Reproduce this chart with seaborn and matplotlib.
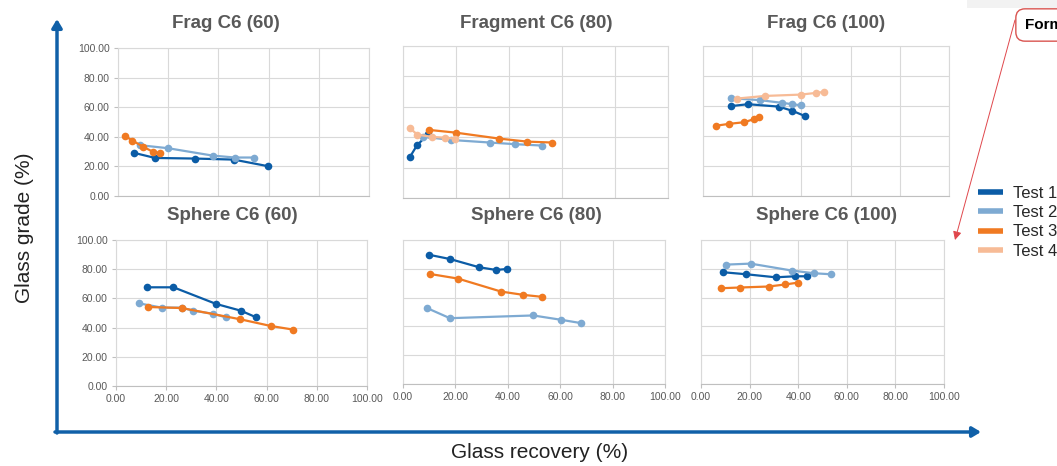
import matplotlib
matplotlib.use("Agg")
import matplotlib.pyplot as plt
import seaborn as sns
import pandas as pd
from matplotlib.lines import Line2D

# Werte (Glass recovery %, Glass grade %)
titles = ["Frag C6 (60)", "Fragment C6 (80)", "Frag C6 (100)",
          "Sphere C6 (60)", "Sphere C6 (80)", "Sphere C6 (100)"]
tests = ["Test 1", "Test 2", "Test 3", "Test 4"]
colors = ["#0b5ca6", "#7eaad2", "#f07a22", "#f7bb96"]

frag60_x = {"Test 1": [6.5, 14.8, 30.7, 46.1, 59.9],
            "Test 2": [8.9, 19.9, 37.7, 46.6, 54.0],
            "Test 3": [2.8, 5.7, 10.1, 14.0, 16.6]}
frag60_y = {"Test 1": [29.1, 25.7, 25.3, 24.6, 20.1],
            "Test 2": [34.3, 32.3, 27.3, 26.0, 26.0],
            "Test 3": [40.6, 37.5, 33.2, 29.8, 29.1]}

frag80_x = {"Test 1": [2.5, 5.3, 9.5],
            "Test 2": [7.5, 18.0, 32.7, 42.4, 52.5],
            "Test 3": [9.8, 19.9, 36.2, 46.9, 56.2],
            "Test 4": [2.5, 5.4, 11.1, 15.7, 19.7]}
frag80_y = {"Test 1": [26.7, 34.7, 42.0],
            "Test 2": [40.4, 38.2, 36.5, 35.4, 34.5],
            "Test 3": [44.8, 43.0, 39.1, 37.1, 36.5],
            "Test 4": [46.1, 41.7, 40.2, 39.7, 39.1]}

frag100_x = {"Test 1": [11.2, 18.3, 30.8, 36.3, 41.6],
             "Test 2": [11.2, 23.2, 32.1, 36.3, 39.7],
             "Test 3": [5.1, 10.6, 16.8, 20.6, 22.8],
             "Test 4": [14.0, 25.1, 39.7, 45.8, 49.2]}
frag100_y = {"Test 1": [59.9, 61.2, 59.6, 56.8, 53.2],
             "Test 2": [65.2, 63.9, 62.1, 61.2, 60.5],
             "Test 3": [46.8, 48.1, 49.2, 51.2, 52.5],
             "Test 4": [65.0, 66.7, 67.6, 68.7, 69.4]}

sph60_x = {"Test 1": [12.2, 22.9, 39.9, 49.7, 55.9],
           "Test 2": [9.2, 18.2, 26.2, 30.6, 38.6, 43.8],
           "Test 3": [12.9, 26.2, 49.5, 61.7, 70.7]}
sph60_y = {"Test 1": [67.6, 67.6, 56.2, 51.6, 47.0],
           "Test 2": [56.6, 53.7, 53.7, 51.6, 49.5, 47.0],
           "Test 3": [54.1, 53.4, 45.7, 41.1, 38.6]}

sph80_x = {"Test 1": [9.8, 17.9, 29.0, 35.5, 39.8],
           "Test 2": [9.2, 17.9, 49.7, 60.3, 67.9],
           "Test 3": [10.3, 21.0, 37.4, 45.9, 53.2]}
sph80_y = {"Test 1": [89.8, 86.8, 81.1, 79.2, 79.9],
           "Test 2": [52.7, 45.7, 47.6, 44.6, 42.3],
           "Test 3": [76.4, 73.2, 64.2, 61.9, 60.5]}

sph100_x = {"Test 1": [9.2, 18.7, 30.7, 38.8, 43.8],
            "Test 2": [10.2, 20.4, 37.3, 46.5, 53.6],
            "Test 3": [8.1, 15.9, 27.8, 34.6, 39.9]}
sph100_y = {"Test 1": [77.6, 76.2, 74.1, 74.8, 74.8],
            "Test 2": [82.9, 83.6, 78.8, 76.9, 76.2],
            "Test 3": [66.5, 67.0, 67.7, 69.1, 70.4]}

panel_x = [frag60_x, frag80_x, frag100_x, sph60_x, sph80_x, sph100_x]
panel_y = [frag60_y, frag80_y, frag100_y, sph60_y, sph80_y, sph100_y]
ticks = [0, 20, 40, 60, 80, 100]

sns.set_theme(style="whitegrid")
plt.rcParams["font.family"] = ["Liberation Sans", "DejaVu Sans"]

W, H = 1057, 466
fig = plt.figure(figsize=(W / 100, H / 100), dpi=100)
fig.patch.set_facecolor("white")

# Achsenpositionen in Pixeln (links, oben, rechts, unten)
boxes = [(118, 48, 369, 196), (403, 46, 668, 198), (703, 46, 949, 196),
         (116, 240, 367, 386), (403, 240, 665, 384), (701, 240, 944, 384)]

palette = dict(zip(tests, colors))
grey = "#595959"

for i, (l, t, r, b) in enumerate(boxes):
    ax = fig.add_axes([l / W, 1 - b / H, (r - l) / W, (b - t) / H])
    rows = []
    for test in tests:
        if test in panel_x[i]:
            for xv, yv in zip(panel_x[i][test], panel_y[i][test]):
                rows.append({"test": test, "recovery": xv, "grade": yv})
    df = pd.DataFrame(rows)
    sns.lineplot(data=df, x="recovery", y="grade", hue="test",
                 hue_order=[tt for tt in tests if tt in panel_x[i]],
                 palette=palette, marker="o", markersize=5.5,
                 markeredgewidth=0, linewidth=1.6, sort=False,
                 estimator=None, legend=False, ax=ax)
    ax.set_xlim(0, 100)
    ax.set_ylim(0, 100)
    ax.set_xticks(ticks)
    ax.set_yticks(ticks)
    ax.set_xlabel("")
    ax.set_ylabel("")
    ax.grid(True, color="#d9d9d9", linewidth=0.8)
    for s in ax.spines.values():
        s.set_color("#d9d9d9")
        s.set_linewidth(0.8)
    ax.spines["bottom"].set_color("#bfbfbf")
    ax.tick_params(colors="#bfbfbf", labelcolor=grey, labelsize=7.5,
                   length=3, width=0.8, pad=3)
    if i in (0, 3):
        ax.set_yticklabels([f"{v:.2f}" for v in ticks])
        ax.tick_params(axis="y", left=True)
    else:
        ax.set_yticklabels([])
        ax.tick_params(axis="y", left=False)
    if i >= 3:
        ax.set_xticklabels([f"{v:.2f}" for v in ticks])
        ax.tick_params(axis="x", bottom=True)
    else:
        ax.set_xticklabels([])
        ax.tick_params(axis="x", bottom=False)

# Titel
title_pos = [(226, 23), (536, 23), (826, 23), (232, 215), (536, 215), (827, 215)]
for txt, (cx, cy) in zip(titles, title_pos):
    fig.text(cx / W, 1 - cy / H, txt, ha="center", va="center",
             fontsize=13.5, fontweight="bold", color=grey)

# grosse Achsenpfeile
blue = "#1060a8"
fig.patches.append(plt.matplotlib.patches.FancyArrowPatch(
    (57 / W, 1 - 433 / H), (57 / W, 1 - 19 / H), transform=fig.transFigure,
    arrowstyle="-|>,head_length=5,head_width=3", color=blue, lw=2.5,
    shrinkA=0, shrinkB=0))
fig.patches.append(plt.matplotlib.patches.FancyArrowPatch(
    (55 / W, 1 - 432 / H), (981 / W, 1 - 432 / H), transform=fig.transFigure,
    arrowstyle="-|>,head_length=5,head_width=3", color=blue, lw=2.5,
    shrinkA=0, shrinkB=0))

fig.text(540 / W, 1 - 452 / H, "Glass recovery (%)", ha="center", va="center",
         fontsize=15, color="#222222")
fig.text(25 / W, 1 - 228 / H, "Glass grade (%)", ha="center", va="center",
         rotation=90, fontsize=15, color="#222222")

# Legende
handles = [Line2D([0], [0], color=c, lw=4, solid_capstyle="butt") for c in colors]
fig.legend(handles, tests, loc="upper left",
           bbox_to_anchor=(978 / W, 1 - 186 / H), frameon=False,
           fontsize=12, handlelength=1.5, handletextpad=0.6,
           labelspacing=0.25, borderpad=0, borderaxespad=0)

# Notiz oben rechts (im Original am Rand abgeschnitten)
fig.patches.append(plt.matplotlib.patches.Rectangle(
    (967 / W, 1 - 8 / H), 90 / W, 8 / H, transform=fig.transFigure,
    facecolor="#f2f2f2", edgecolor="none"))
fig.text(1025 / W, 1 - 25 / H, "Formula", ha="left", va="center",
         fontsize=11, fontweight="bold", color="black",
         bbox=dict(boxstyle="round,pad=0.6,rounding_size=0.6",
                   facecolor="white", edgecolor="#d9534f", lw=1))
fig.patches.append(plt.matplotlib.patches.FancyArrowPatch(
    (1015 / W, 1 - 20 / H), (955 / W, 1 - 240 / H), transform=fig.transFigure,
    arrowstyle="-|>,head_length=5,head_width=2.5", color="#e0474c", lw=0.7,
    shrinkA=0, shrinkB=0))

fig.savefig("out.png", dpi=100)
